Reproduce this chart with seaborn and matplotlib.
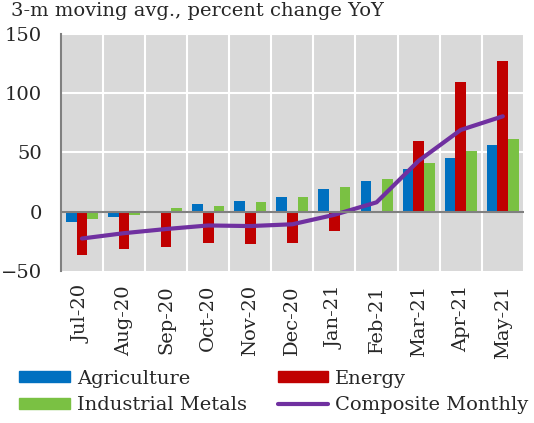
import pandas as pd
import seaborn as sns
import matplotlib.pyplot as plt
from matplotlib.patches import Patch
from matplotlib.lines import Line2D

months = ['Jul-20', 'Aug-20', 'Sep-20', 'Oct-20', 'Nov-20', 'Dec-20',
          'Jan-21', 'Feb-21', 'Mar-21', 'Apr-21', 'May-21']
agriculture = [-9, -4, 1, 6.5, 9.5, 12.7, 19.2, 26.3, 36, 45, 56.5]
energy = [-36, -31, -29.5, -26, -27.5, -26, -16, -1, 60, 109, 127.5]
metals = [-6, -2.5, 3, 4.5, 8, 12.7, 21, 27.7, 41, 51.5, 61.5]
composite = [-22.5, -18, -14.5, -11.5, -12, -10.5, -2.5, 8, 43, 69, 80.5]

colors = {'Agriculture': '#0070C0', 'Energy': '#C00000', 'Industrial Metals': '#7AC143'}
line_color = '#7030A0'

df = pd.DataFrame({'month': months, 'Agriculture': agriculture,
                   'Energy': energy, 'Industrial Metals': metals})
plot_df = df.melt(id_vars='month', var_name='Category', value_name='Value')

sns.set_style('white')
plt.rcParams['font.family'] = ['DejaVu Serif']

fig = plt.figure(figsize=(5.34, 4.23), dpi=100)
ax = fig.add_axes([0.114, 0.359, 0.867, 0.561])
ax.set_facecolor('#D9D9D9')

sns.barplot(data=plot_df, x='month', y='Value', hue='Category', order=months,
            palette=colors, width=0.76, gap=0.0, saturation=1, legend=False,
            linewidth=0, ax=ax, zorder=3)
sns.lineplot(x=months, y=composite, color=line_color, linewidth=3, ax=ax,
             sort=False, zorder=4)

ax.set_ylim(-50, 150)
ax.set_yticks([-50, 0, 50, 100, 150])
ax.set_xlim(-0.5, len(months) - 0.5)
ax.set_xlabel('')
ax.set_ylabel('')

# white grid: horizontal at ticks, vertical at category boundaries
for y in [50, 100, 150]:
    ax.axhline(y, color='white', lw=1.5, zorder=1)
for i in range(len(months) + 1):
    ax.axvline(i - 0.5, color='white', lw=1.5, zorder=1)
ax.axhline(0, color='#808080', lw=1.5, zorder=5)

for s in ['top', 'right', 'bottom']:
    ax.spines[s].set_visible(False)
ax.spines['left'].set_color('#808080')
ax.spines['left'].set_linewidth(1.5)
ax.tick_params(axis='y', direction='out', length=6.5, width=1.5, color='#808080',
               labelsize=14, pad=7)
ax.tick_params(axis='x', length=0, labelsize=14, pad=10)
plt.setp(ax.get_xticklabels(), rotation=90)

fig.text(0.02, 0.995, '3-m moving avg., percent change YoY', fontsize=14,
         ha='left', va='top')

handles = [Patch(color=colors['Agriculture'], label='Agriculture'),
           Patch(color=colors['Industrial Metals'], label='Industrial Metals'),
           Patch(color=colors['Energy'], label='Energy'),
           Line2D([0], [0], color=line_color, lw=3, label='Composite Monthly')]
fig.legend(handles=handles, ncol=2, loc='lower left', bbox_to_anchor=(0.02, 0.0),
           frameon=False, fontsize=14, handlelength=2.6, handleheight=0.5,
           handletextpad=0.35, columnspacing=1.6, labelspacing=0.45,
           borderaxespad=0.05)

fig.savefig('out.png', dpi=100)
